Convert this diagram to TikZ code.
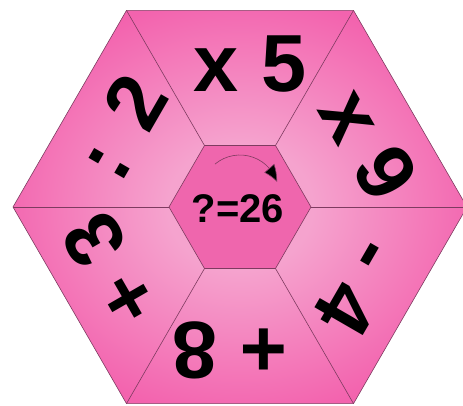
\documentclass[tikz,border=0pt]{standalone}
\usepackage{fontspec}
\setmainfont{Liberation Sans}
\usetikzlibrary{arrows.meta,bending,calc,shapes.geometric}

\definecolor{pinkrim}{HTML}{F363AE}
\definecolor{pinkglow}{HTML}{F5A3CE}
\definecolor{pinkcore}{HTML}{EF66AD}
\definecolor{seamline}{HTML}{7E3B60}
\pgfdeclareradialshading{hexglow}{\pgfpoint{0bp}{0bp}}{%
  color(0bp)=(pinkglow); color(8bp)=(pinkglow);
  color(27bp)=(pinkrim); color(50bp)=(pinkrim)}

\begin{document}
\begin{tikzpicture}[
  x=1pt, y=1pt,
  hexa/.style={regular polygon, regular polygon sides=6,
               inner sep=0pt, outer sep=0pt},
  seam/.style={draw=seamline, line width=0.6pt},
  tile/.style={font=\bfseries\fontsize{81}{81}\selectfont, inner sep=0pt},
  goal/.style={font=\bfseries\fontsize{40}{40}\selectfont, inner sep=0pt},
  turn/.style={draw=seamline, line width=0.6pt,
               -{Triangle[length=16pt, width=13pt, fill=black, bend]}},
]
\useasboundingbox (-240,-198) rectangle (223,207);

% ---------------- board ----------------
\node[hexa, minimum size=454pt, shading=hexglow, seam] (rim)  at (0,0) {};
\foreach \k in {1,...,6}
  \draw[seam] (0,0) -- (rim.corner \k);
\node[hexa, minimum size=142pt, fill=pinkcore, seam] (core) at (0,0) {};

% ---------------- operations, clockwise from the top ----------------
\foreach \ang/\txt [count=\i] in {90/x 5, 30/x 9, -30/- 4, -90/+ 8, -150/+ 3, 150/: 2}
  \node[tile, rotate=\ang-90] (op\i) at ($(\ang:143)+(\ang-90:10)$) {\txt};

% ---------------- centre ----------------
\node[goal] (result) at (-2,-2) {?=26};
\coordinate (pivot) at (0,13);
\draw[turn] ([shift={(130:39)}]pivot) arc[start angle=130, end angle=18, radius=39];

\end{tikzpicture}
\end{document}
